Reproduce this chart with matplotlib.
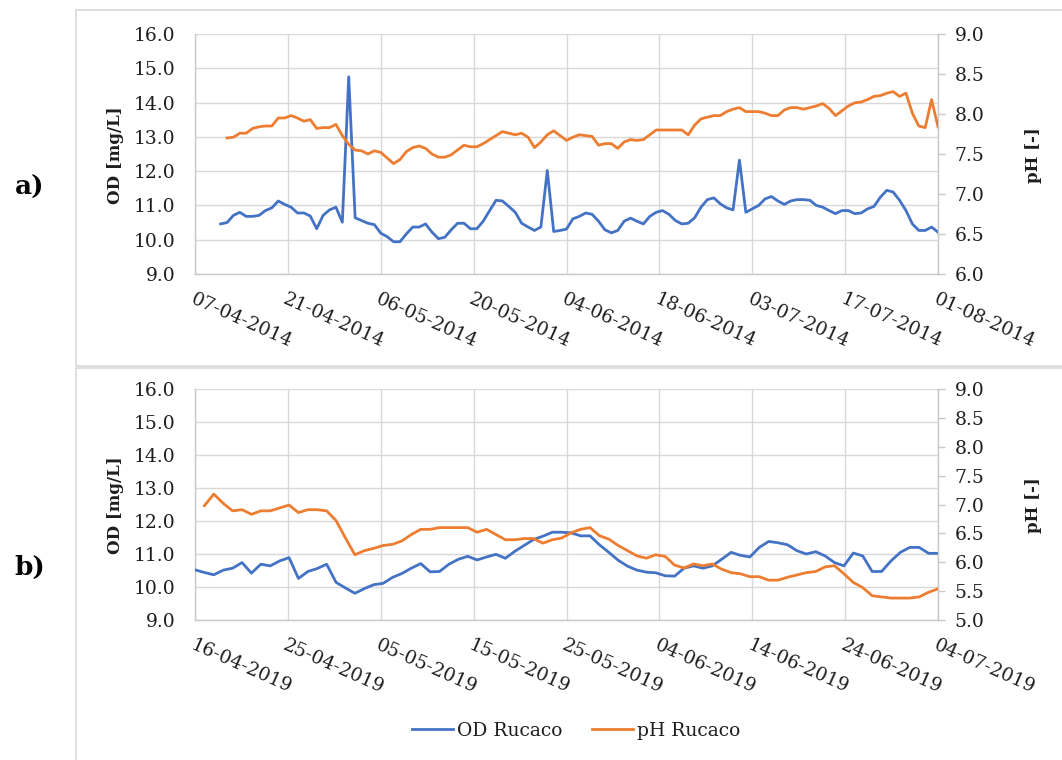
import numpy as np
import pandas as pd
import matplotlib
matplotlib.use("Agg")
import matplotlib.pyplot as plt
import matplotlib.dates as mdates
from matplotlib.lines import Line2D
from matplotlib.patches import Rectangle
from matplotlib.ticker import FormatStrFormatter

# ---------------- data ----------------
# a) 2014 campaign, daily values
od_2014_start = "2014-04-11"
od_2014 = [10.46, 10.50, 10.71, 10.80, 10.68, 10.68, 10.71, 10.85, 10.93, 11.13,
           11.03, 10.95, 10.78, 10.78, 10.69, 10.32, 10.71, 10.87, 10.95, 10.51,
           14.75, 10.64, 10.56, 10.48, 10.44, 10.19, 10.09, 9.94, 9.94, 10.17,
           10.37, 10.37, 10.46, 10.22, 10.03, 10.07, 10.29, 10.48, 10.48, 10.32,
           10.32, 10.54, 10.85, 11.15, 11.13, 10.97, 10.80, 10.48, 10.37, 10.27,
           10.37, 12.02, 10.24, 10.27, 10.31, 10.61, 10.68, 10.78, 10.74, 10.54,
           10.29, 10.20, 10.27, 10.54, 10.63, 10.54, 10.46, 10.68, 10.80, 10.85,
           10.74, 10.56, 10.46, 10.48, 10.64, 10.95, 11.17, 11.22, 11.05, 10.93,
           10.87, 12.32, 10.80, 10.90, 11.00, 11.19, 11.26, 11.13, 11.03, 11.13,
           11.17, 11.17, 11.15, 11.00, 10.95, 10.85, 10.76, 10.85, 10.85, 10.76,
           10.78, 10.90, 10.97, 11.24, 11.44, 11.39, 11.15, 10.85, 10.46, 10.27,
           10.27, 10.37, 10.22]

ph_2014_start = "2014-04-12"
ph_2014 = [7.70, 7.71, 7.76, 7.76, 7.82, 7.84, 7.85, 7.85, 7.95, 7.95,
           7.98, 7.95, 7.91, 7.93, 7.82, 7.83, 7.83, 7.87, 7.73, 7.62,
           7.55, 7.54, 7.50, 7.54, 7.52, 7.45, 7.38, 7.43, 7.53, 7.58,
           7.60, 7.57, 7.50, 7.46, 7.46, 7.49, 7.55, 7.61, 7.59, 7.59,
           7.63, 7.68, 7.73, 7.78, 7.76, 7.74, 7.76, 7.71, 7.58, 7.65,
           7.74, 7.79, 7.73, 7.67, 7.71, 7.74, 7.73, 7.72, 7.61, 7.63,
           7.63, 7.57, 7.65, 7.68, 7.67, 7.68, 7.74, 7.80, 7.80, 7.80,
           7.80, 7.80, 7.74, 7.86, 7.94, 7.96, 7.98, 7.98, 8.03, 8.06,
           8.08, 8.03, 8.03, 8.03, 8.01, 7.98, 7.98, 8.05, 8.08, 8.08,
           8.06, 8.08, 8.10, 8.13, 8.07, 7.98, 8.04, 8.10, 8.14, 8.15,
           8.18, 8.22, 8.23, 8.26, 8.28, 8.22, 8.26, 8.01, 7.85, 7.83,
           8.18, 7.84]

ticks_2014 = ["07-04-2014", "21-04-2014", "06-05-2014", "20-05-2014", "04-06-2014",
              "18-06-2014", "03-07-2014", "17-07-2014", "01-08-2014"]

# b) 2019 campaign, daily values
od_2019_start = "2019-04-16"
od_2019 = [10.52, 10.44, 10.37, 10.51, 10.57, 10.74, 10.42, 10.69, 10.64, 10.79,
           10.89, 10.26, 10.47, 10.56, 10.69, 10.14, 9.97, 9.81, 9.95, 10.07,
           10.11, 10.29, 10.41, 10.57, 10.71, 10.46, 10.47, 10.69, 10.84, 10.93,
           10.82, 10.91, 10.99, 10.87, 11.08, 11.26, 11.44, 11.54, 11.66, 11.66,
           11.64, 11.55, 11.55, 11.28, 11.05, 10.81, 10.63, 10.51, 10.45, 10.43,
           10.34, 10.33, 10.57, 10.64, 10.57, 10.64, 10.84, 11.05, 10.96, 10.91,
           11.20, 11.38, 11.34, 11.28, 11.10, 11.00, 11.07, 10.94, 10.74, 10.64,
           11.03, 10.94, 10.47, 10.47, 10.79, 11.05, 11.20, 11.20, 11.02, 11.02]

ph_2019_start = "2019-04-17"
ph_2019 = [6.98, 7.18, 7.02, 6.89, 6.91, 6.83, 6.89, 6.89, 6.94, 6.99,
           6.86, 6.91, 6.91, 6.89, 6.72, 6.42, 6.13, 6.20, 6.24, 6.29,
           6.31, 6.37, 6.48, 6.57, 6.57, 6.60, 6.60, 6.60, 6.60, 6.52,
           6.57, 6.48, 6.39, 6.39, 6.41, 6.41, 6.33, 6.39, 6.42, 6.51,
           6.57, 6.60, 6.46, 6.40, 6.29, 6.20, 6.11, 6.07, 6.13, 6.10,
           5.95, 5.90, 5.97, 5.94, 5.97, 5.88, 5.82, 5.80, 5.75, 5.75,
           5.69, 5.69, 5.74, 5.78, 5.82, 5.84, 5.92, 5.94, 5.80, 5.65,
           5.56, 5.42, 5.40, 5.38, 5.38, 5.38, 5.40, 5.48, 5.54]

ticks_2019 = ["16-04-2019", "25-04-2019", "05-05-2019", "15-05-2019", "25-05-2019",
              "04-06-2019", "14-06-2019", "24-06-2019", "04-07-2019"]

legend_labels = ["OD Rucaco", "pH Rucaco"]

# ---------------- style ----------------
BLUE = "#4472C4"
ORANGE = "#ED7D31"
GRID = "#d9d9d9"
TXT = "#1e1e1e"
FONT = "DejaVu Serif"
plt.rcParams["font.family"] = [FONT, "DejaVu Sans"]

W, H = 1062, 760
fig = plt.figure(figsize=(W / 100, H / 100), dpi=100)


def fx(px):
    return px / W


def fy(py):
    return 1 - py / H


def panel(top_px, bottom_px, od, od_start, ph, ph_start, ticks, ph_lo, panel_label,
          label_y, title_y):
    ax = fig.add_axes([fx(195), fy(bottom_px), fx(938) - fx(195), fy(top_px) - fy(bottom_px)])
    od_x = pd.date_range(od_start, periods=len(od), freq="D")
    ph_x = pd.date_range(ph_start, periods=len(ph), freq="D")
    t0 = mdates.date2num(pd.to_datetime(ticks[0], format="%d-%m-%Y"))
    t1 = mdates.date2num(pd.to_datetime(ticks[-1], format="%d-%m-%Y"))
    tick_pos = np.linspace(t0, t1, len(ticks))

    ax.plot(od_x, od, color=BLUE, lw=2.0, solid_joinstyle="round", zorder=3)
    ax.set_xlim(t0, t1)
    ax.set_ylim(9, 16)
    ax.set_yticks(np.arange(9, 16.01, 1))
    ax.yaxis.set_major_formatter(FormatStrFormatter("%.1f"))
    ax.set_xticks(tick_pos)
    ax.set_xticklabels(ticks, rotation=-24, ha="left", va="top", rotation_mode="anchor")
    ax.grid(True, color=GRID, lw=1.0, zorder=0)
    ax.set_axisbelow(True)
    ax.tick_params(axis="both", length=0, labelsize=13.5, colors=TXT)
    ax.tick_params(axis="x", pad=12)
    ax.tick_params(axis="y", pad=14)
    for s in ("top", "right"):
        ax.spines[s].set_visible(False)
    for s in ("left", "bottom"):
        ax.spines[s].set_color("#c8c8c8")
        ax.spines[s].set_linewidth(1.0)

    ax2 = ax.twinx()
    ax2.plot(ph_x, ph, color=ORANGE, lw=2.0, solid_joinstyle="round", zorder=3)
    ax2.set_ylim(ph_lo, 9)
    ax2.set_yticks(np.arange(ph_lo, 9.01, 0.5))
    ax2.yaxis.set_major_formatter(FormatStrFormatter("%.1f"))
    ax2.tick_params(axis="y", length=5, width=1, color="#c8c8c8", labelsize=13.5,
                    labelcolor=TXT, pad=7)
    for s in ("top", "left", "bottom"):
        ax2.spines[s].set_visible(False)
    ax2.spines["right"].set_color("#c8c8c8")
    ax2.spines["right"].set_linewidth(1.0)

    fig.text(fx(116), fy(title_y), "OD [mg/L]", rotation=90, ha="center", va="center",
             fontsize=12, fontweight="bold", color=TXT)
    fig.text(fx(1033), fy(title_y), "pH [-]", rotation=90, ha="center", va="center",
             fontsize=12, fontweight="bold", color=TXT)
    fig.text(fx(30), fy(label_y), panel_label, ha="center", va="center",
             fontsize=19, fontweight="bold", color="black")
    return ax


panel(34, 274, od_2014, od_2014_start, ph_2014, ph_2014_start, ticks_2014, 6.0,
      "a)", 187, 155)
panel(389, 620, od_2019, od_2019_start, ph_2019, ph_2019_start, ticks_2019, 5.0,
      "b)", 567, 505)

# chart frames
fig.add_artist(Rectangle((fx(76), fy(366)), 1.1, fy(10) - fy(366), transform=fig.transFigure,
                         fill=False, edgecolor=GRID, lw=1.2))
fig.add_artist(Rectangle((fx(76), -0.1), 1.1, fy(368) + 0.1, transform=fig.transFigure,
                         fill=False, edgecolor=GRID, lw=1.2))

handles = [Line2D([], [], color=BLUE, lw=2.0), Line2D([], [], color=ORANGE, lw=2.0)]
fig.legend(handles, legend_labels, loc="center", bbox_to_anchor=(fx(576), fy(731)),
           ncol=2, frameon=False, fontsize=13.5, handlelength=2.2, handletextpad=0.2,
           columnspacing=1.6, labelcolor=TXT)

fig.savefig("out.png", dpi=100, facecolor="white")
